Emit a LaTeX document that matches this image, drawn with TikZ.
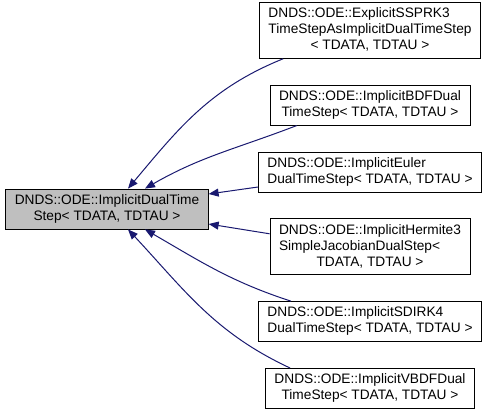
\documentclass[tikz,border=0pt]{standalone}
\usepackage{fontspec}
\setmainfont{Liberation Sans}
\usepackage{xcolor}
\usepackage{tikz}
\usetikzlibrary{arrows.meta,positioning}

\definecolor{edgeblue}{RGB}{25,25,112}
\definecolor{basegray}{RGB}{191,191,191}
% first lines left, last line centred (as doxygen does)
\newcommand{\dlabel}[2]{\begin{tabular}{@{}l@{}}#1\\\multicolumn{1}{@{}c@{}}{#2}\end{tabular}}

\begin{document}
\begin{tikzpicture}[
  x=1pt,y=1pt,
  node distance=26pt,
  cls/.style={draw=black,line width=0.8pt,inner xsep=9pt,inner ysep=4pt,font=\fontsize{13.7}{16}\selectfont,fill=white},
  cur/.style={cls,fill=basegray},
  inh/.style={draw=edgeblue,line width=1pt,-{Triangle[length=10pt,width=8pt]}}
]
\useasboundingbox (0,0) rectangle (484,410);

\node[cur] (base) at (107,201) {\dlabel{DNDS::ODE::ImplicitDualTime}{Step< TDATA, TDTAU >}};

\node[cls,anchor=north] (ssprk) at (370,408) {\dlabel{DNDS::ODE::ExplicitSSPRK3\\TimeStepAsImplicitDualTimeStep}{< TDATA, TDTAU >}};
\node[cls,below=of ssprk] (bdf) {\dlabel{DNDS::ODE::ImplicitBDFDual}{TimeStep< TDATA, TDTAU >}};
\node[cls,below=of bdf] (euler) {\dlabel{DNDS::ODE::ImplicitEuler}{DualTimeStep< TDATA, TDTAU >}};
\node[cls,below=of euler] (herm) {\dlabel{DNDS::ODE::ImplicitHermite3\\SimpleJacobianDualStep<}{TDATA, TDTAU >}};
\node[cls,below=of herm] (sdirk) {\dlabel{DNDS::ODE::ImplicitSDIRK4}{DualTimeStep< TDATA, TDTAU >}};
\node[cls,below=of sdirk] (vbdf) {\dlabel{DNDS::ODE::ImplicitVBDFDual}{TimeStep< TDATA, TDTAU >}};

\draw[inh] ([xshift=24pt]ssprk.south west) to[out=202,in=50] ([xshift=21pt]base.north);
\draw[inh] ([xshift=27pt]bdf.south west) to[out=201,in=30] ([xshift=38pt]base.north);
\draw[inh] ([yshift=-15pt]euler.west) -- ([yshift=15pt]base.east);
\draw[inh] ([yshift=13pt]herm.west) -- ([yshift=-15pt]base.east);
\draw[inh] ([xshift=33pt]sdirk.north west) to[out=162,in=330] ([xshift=38pt]base.south);
\draw[inh] ([xshift=25pt]vbdf.north west) to[out=155,in=313] ([xshift=21pt]base.south);
\end{tikzpicture}
\end{document}
